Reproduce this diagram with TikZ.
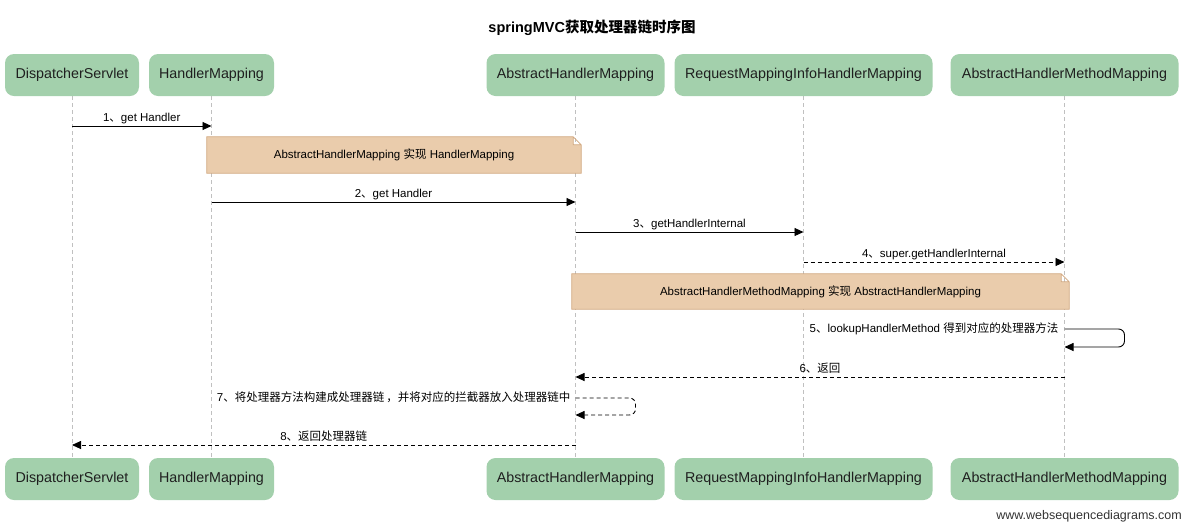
\documentclass[tikz,border=0pt]{standalone}
\usepackage{fontspec}
\setmainfont{Liberation Sans}
\newfontfamily\cjk{Noto Sans CJK SC}
\usetikzlibrary{arrows.meta}
\definecolor{boxgreen}{RGB}{163,208,172}
\definecolor{notefill}{RGB}{234,204,172}
\definecolor{noteline}{RGB}{210,168,128}
\definecolor{lifegray}{RGB}{192,192,192}
\newcommand{\zh}[1]{{\cjk #1}}
\pgfdeclarelayer{lines}
\pgfdeclarelayer{notes}
\pgfsetlayers{lines,notes,main}

\begin{document}
\begin{tikzpicture}[x=1pt,y=-1pt,
  actor/.style={rectangle, rounded corners=9pt, fill=boxgreen, minimum height=42pt,
    inner sep=0pt, font=\fontsize{14.3}{16}\selectfont, text=black!88},
  lifeline/.style={draw=lifegray, line width=0.6pt, dash pattern=on 4pt off 3pt},
  msg/.style={draw=black, line width=0.9pt, -{Triangle[length=9pt,width=8pt]}},
  reply/.style={msg, dash pattern=on 4pt off 3pt},
  msglabel/.style={font=\fontsize{11.5}{13}\selectfont, inner sep=0pt,
    text height=8.5pt, text depth=2.5pt, anchor=south},
  selflabel/.style={font=\fontsize{11.5}{13}\selectfont, inner sep=0pt,
    text height=8.5pt, text depth=2.5pt, anchor=east},
  notebox/.style={rectangle, inner sep=0pt, font=\fontsize{11.5}{13}\selectfont},
  notebg/.style={fill=notefill, draw=noteline, line width=0.8pt},
]
\useasboundingbox (0,0) rectangle (1195,531);

% title
\node[font=\fontsize{14.5}{16}\selectfont\bfseries] (title) at (592,28)
  {springMVC\zh{获取处理器链时序图}};

% participants, top row
\node[actor, minimum width=134pt] (ds)   at (72,75)    {DispatcherServlet};
\node[actor, minimum width=125pt] (hm)   at (211.5,75) {HandlerMapping};
\node[actor, minimum width=178pt] (ahm)  at (575.5,75) {AbstractHandlerMapping};
\node[actor, minimum width=258pt] (rmi)  at (803.5,75) {RequestMappingInfoHandlerMapping};
\node[actor, minimum width=228pt] (ahmm) at (1064.5,75) {AbstractHandlerMethodMapping};

% participants, bottom row
\node[actor, minimum width=134pt] (dsb)   at (72,479)    {DispatcherServlet};
\node[actor, minimum width=125pt] (hmb)   at (211.5,479) {HandlerMapping};
\node[actor, minimum width=178pt] (ahmb)  at (575.5,479) {AbstractHandlerMapping};
\node[actor, minimum width=258pt] (rmib)  at (803.5,479) {RequestMappingInfoHandlerMapping};
\node[actor, minimum width=228pt] (ahmmb) at (1064.5,479) {AbstractHandlerMethodMapping};

% lifelines
\begin{pgfonlayer}{lines}
\foreach \t/\b in {ds/dsb, hm/hmb, ahm/ahmb, rmi/rmib, ahmm/ahmmb}
  \draw[lifeline] (\t.south) -- (\b.north);
\end{pgfonlayer}

% notes
\node[notebox, minimum width=374pt, minimum height=36pt] (n1) at (394,155)
  {AbstractHandlerMapping \zh{实现} HandlerMapping};
\node[notebox, minimum width=497pt, minimum height=35pt] (n2) at (820.5,291.5)
  {AbstractHandlerMethodMapping \zh{实现} AbstractHandlerMapping};
\begin{pgfonlayer}{notes}
\foreach \n in {n1,n2}
  \draw[notebg] (\n.north west) -- ([xshift=-8pt]\n.north east)
    -- ([yshift=-8pt]\n.north east) -- (\n.south east) -- (\n.south west) -- cycle
    ([xshift=-8pt]\n.north east) |- ([yshift=-8pt]\n.north east);
\end{pgfonlayer}

% message end points on the lifelines
\coordinate (m1a) at (ds.center |- 0,126);
\coordinate (m1b) at (hm.center |- 0,126);
\coordinate (m2a) at (hm.center |- 0,202);
\coordinate (m2b) at (ahm.center |- 0,202);
\coordinate (m3a) at (ahm.center |- 0,232);
\coordinate (m3b) at (rmi.center |- 0,232);
\coordinate (m4a) at (rmi.center |- 0,262);
\coordinate (m4b) at (ahmm.center |- 0,262);
\coordinate (m5a) at (ahmm.center |- 0,329);
\coordinate (m5b) at (ahmm.center |- 0,347);
\coordinate (m6a) at (ahmm.center |- 0,377);
\coordinate (m6b) at (ahm.center |- 0,377);
\coordinate (m7a) at (ahm.center |- 0,398);
\coordinate (m7b) at (ahm.center |- 0,415);
\coordinate (m8a) at (ahm.center |- 0,445);
\coordinate (m8b) at (ds.center |- 0,445);

% messages
\draw[msg] (m1a) -- node[msglabel, above=2pt] {1\zh{、}get Handler} (m1b);
\draw[msg] (m2a) -- node[msglabel, above=2pt] {2\zh{、}get Handler} (m2b);
\draw[msg] (m3a) -- node[msglabel, above=2pt] {3\zh{、}getHandlerInternal} (m3b);
\draw[reply] (m4a) -- node[msglabel, above=2pt] {4\zh{、}super.getHandlerInternal} (m4b);
\draw[msg, rounded corners=6pt] (m5a) -- ++(60,0) -- ++(0,18) -- (m5b);
\node[selflabel] (l5) at ([xshift=-6pt]m5a)
  {5\zh{、}lookupHandlerMethod \zh{得到对应的处理器方法}};
\draw[reply] (m6a) -- node[msglabel, above=2pt] {6\zh{、返回}} (m6b);
\draw[reply, rounded corners=6pt] (m7a) -- ++(60,0) -- ++(0,17) -- (m7b);
\node[selflabel] (l7) at ([xshift=-5pt]m7a)
  {7\zh{、将处理器方法构建成处理器链\,，并将对应的拦截器放入处理器链中}};
\draw[reply] (m8a) -- node[msglabel, above=2pt] {8\zh{、返回处理器链}} (m8b);

% footer
\node[anchor=east, inner sep=0pt, font=\fontsize{12.5}{14}\selectfont, text=black!80]
  (site) at (1182,516) {www.websequencediagrams.com};
\end{tikzpicture}
\end{document}
